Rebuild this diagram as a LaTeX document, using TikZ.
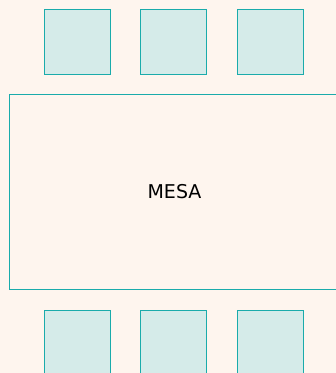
\documentclass[tikz,border=0pt]{standalone}
\usepackage{fontspec}
\setmainfont{DejaVu Sans}
\usepackage{tikz}
\usetikzlibrary{positioning,calc}
\usepackage{xcolor}
\definecolor{fondo}{HTML}{FEF5EE}
\definecolor{borde}{HTML}{1AABAB}
\definecolor{silla}{HTML}{D5EBE9}

\begin{document}
\begin{tikzpicture}[x=1pt,y=-1pt,
    mesa/.style={rectangle,draw=borde,fill=fondo,line width=1pt,minimum width=331pt,minimum height=195pt,inner sep=0pt,font=\fontsize{19}{21}\selectfont},
    chair/.style={rectangle,draw=borde,fill=silla,line width=1pt,minimum width=66pt,minimum height=65pt,inner sep=0pt}]

\fill[fondo] (0,0) rectangle (336,373);
\useasboundingbox (0,0) rectangle (336,373);
\clip (0,0) rectangle (336,373);

\node[mesa] (table) at (174.5,191.5) {MESA};

\foreach \i/\x in {1/77,2/173,3/270}{
  \node[chair] (top\i) at (\x,41.5) {};
  \node[chair] (bot\i) at (\x,342.5) {};
}
\end{tikzpicture}
\end{document}
